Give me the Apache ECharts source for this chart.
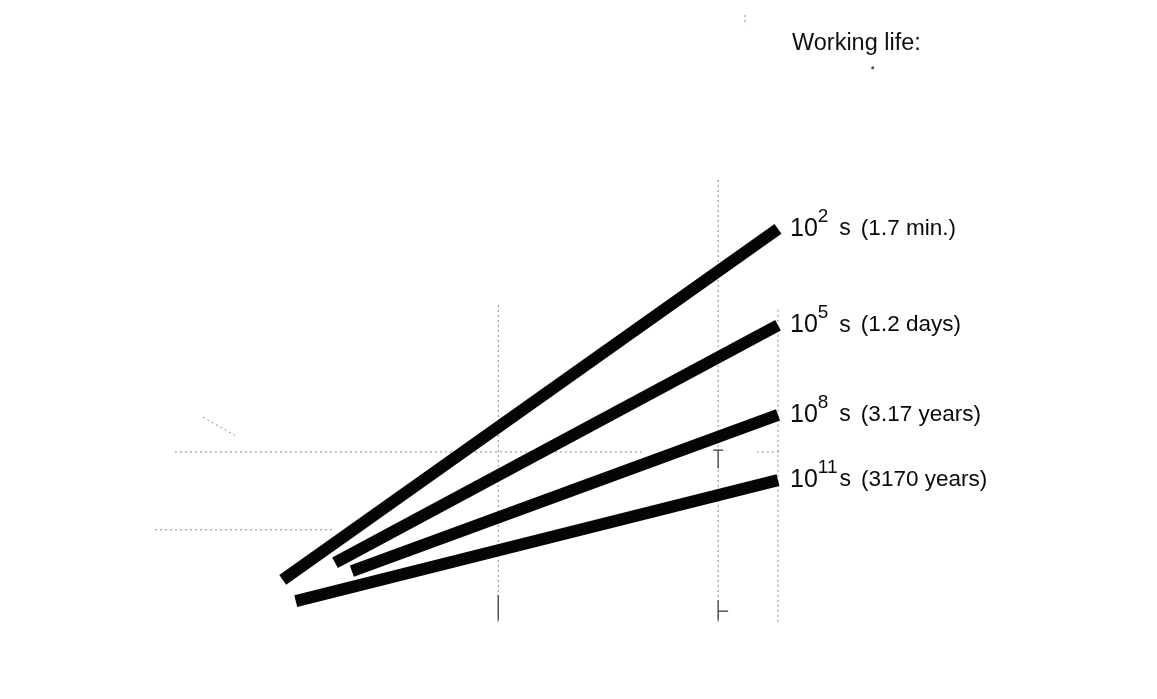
<!DOCTYPE html>
<html><head><meta charset="utf-8">
<script src="https://cdn.jsdelivr.net/npm/echarts@6/dist/echarts.min.js"></script>
<style>html,body{margin:0;padding:0;background:#fff}#c{width:1157px;height:699px}</style>
</head><body><div id="c"></div>
<script>
// Working-life curves (arbitrary chart units; x 0..100, y 0..100)
const lifeNames = ['10^2 s', '10^5 s', '10^8 s', '10^11 s'];
const exponents = ['2', '5', '8', '11'];
const unitGap = [11, 11, 11, 2];
const durations = ['(1.7 min.)', '(1.2 days)', '(3.17 years)', '(3170 years)'];
const lineStarts = [[20.5, 9.1], [28.9, 13.0], [31.6, 11.1], [22.6, 4.3]];
const lineEnds = [[100, 88.9], [100, 67.0], [100, 46.6], [100, 31.8]];
// faint guide lines of the original drawing
const guideLines = [
  [[55.1, 71.6], [55.1, -0.5]],
  [[90.4, 100], [90.4, -0.5]],
  [[100, 70.5], [100, -1.1]],
  [[3.2, 38.2], [78.3, 38.2]],
  [[96.6, 38.2], [101.4, 38.2]],
  [[0, 20.5], [28.4, 20.5]],
  [[7.7, 46.1], [12.8, 42.0]],
  [[94.7, 137.5], [94.7, 135.2]]
];
const tickMarks = [
  [[55.1, 5.7], [55.1, 0]],
  [[90.4, 4.5], [90.4, 0]],
  [[90.4, 2.0], [92.0, 2.0]],
  [[89.6, 38.6], [91.2, 38.6]],
  [[90.4, 38.6], [90.4, 34.5]]
];
const specks = [[115.2, 125.5]];
const titleText = 'Working life:';

const chart = echarts.init(document.getElementById('c'), null, {renderer: 'canvas'});
const series = [];
guideLines.forEach((seg, i) => {
  series.push({type: 'line', name: 'guide' + i, data: seg, symbol: 'none', silent: true, clip: false,
    lineStyle: {color: '#8a8a8a', width: 1, type: [2, 3]}, z: 1});
});
tickMarks.forEach((seg, i) => {
  series.push({type: 'line', name: 'tick' + i, data: seg, symbol: 'none', silent: true, clip: false,
    lineStyle: {color: '#555', width: 1.5}, z: 1});
});
series.push({type: 'scatter', name: 'speck', data: specks, symbolSize: 3, silent: true, clip: false,
  itemStyle: {color: '#222'}, z: 1});
lifeNames.forEach((n, i) => {
  series.push({
    type: 'line', name: n, data: [lineStarts[i], lineEnds[i]], symbol: 'none', clip: false, z: 5,
    lineStyle: {color: '#050505', width: 12, cap: 'butt'},
    endLabel: {
      show: true, distance: 12,
      formatter: () => '{b|10}{sup|' + exponents[i] + '}{s' + i + '|s}{p|' + durations[i] + '}',
      rich: {
        b: {fontFamily: 'Liberation Sans', fontSize: 25, lineHeight: 25, color: '#0a0a0a'},
        sup: {fontFamily: 'Liberation Sans', fontSize: 19, lineHeight: 19, padding: [0, 0, 25, 0], color: '#0a0a0a'},
        ['s' + i]: {fontFamily: 'Liberation Sans', fontSize: 23, lineHeight: 23, padding: [0, 0, 0, unitGap[i]], color: '#0a0a0a'},
        p: {fontFamily: 'Liberation Sans', fontSize: 22.5, lineHeight: 22, padding: [0, 0, 0, 10], color: '#0a0a0a'}
      }
    }
  });
});
chart.setOption({
  animation: false,
  backgroundColor: '#fff',
  title: {text: titleText, left: 792, top: 32, padding: 0,
    textStyle: {fontFamily: 'Liberation Sans', fontSize: 23.5, fontWeight: 'normal', color: '#111', lineHeight: 24}},
  grid: {left: 155, top: 180, width: 623, height: 440},
  xAxis: {type: 'value', min: 0, max: 100, show: false},
  yAxis: {type: 'value', min: 0, max: 100, show: false},
  series: series
});
</script>
</body></html>
